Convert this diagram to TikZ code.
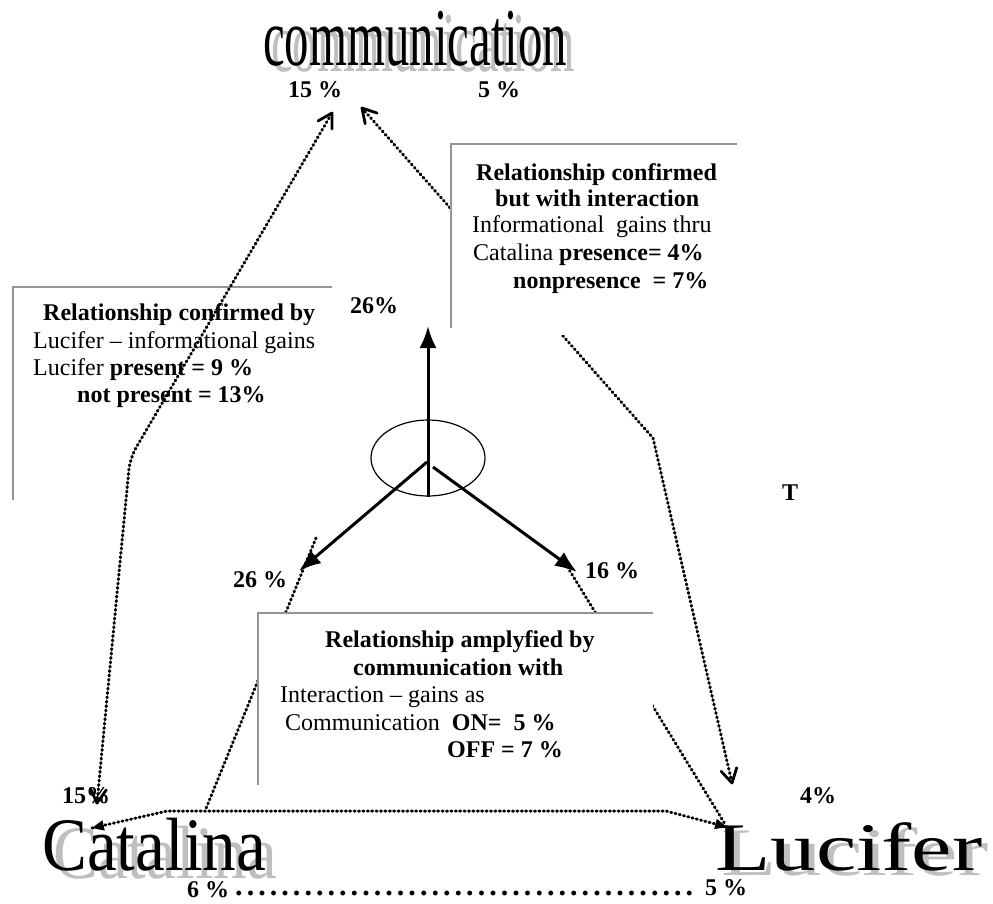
\documentclass[tikz,border=0pt]{standalone}
\usepackage{fontspec}
\setmainfont{Liberation Serif}
\usetikzlibrary{arrows.meta,shapes.geometric,calc}
\begin{document}
\begin{tikzpicture}[x=1pt,y=-1pt,
  lbl/.style={font=\fontsize{24}{28}\selectfont\bfseries, inner sep=0pt, anchor=base west},
  txt/.style={font=\fontsize{24}{28}\selectfont, inner sep=0pt, anchor=base west},
  big/.style={inner sep=0pt, anchor=base west},
  shadow/.style={inner sep=0pt, anchor=base west, text=black!25},
  dotline/.style={line width=3pt, line cap=round, dash pattern=on 1pt off 3.4pt},
  vbarb/.style={line width=2.8pt, line cap=round, line join=round, solid},
  boxline/.style={draw=black!42, line width=2.6pt},
  thickarrow/.style={line width=3pt, -{Latex[length=22pt,width=17pt]}},
]
\useasboundingbox (0,0) rectangle (993,903);

% named points
\coordinate (lA) at (97,803);
\coordinate (lB) at (130,458);
\coordinate (lC) at (332,113);
\coordinate (rA) at (362,108);
\coordinate (rB) at (653,438);
\coordinate (rC) at (732,783);
\coordinate (llA) at (316,538);
\coordinate (llB) at (205,811);
\coordinate (lrA) at (565,563);
\coordinate (lrB) at (725,824);
\coordinate (hA) at (92,828);
\coordinate (hB) at (167,811);
\coordinate (hC) at (666,811);
\coordinate (hD) at (727,827);

% dotted connectors behind boxes
\draw[dotline] (rA) -- (rB) -- (rC);
\draw[vbarb] ($(rA)!16pt!30:(rB)$) -- (rA) -- ($(rA)!16pt!-30:(rB)$);
\draw[vbarb] ($(rC)!16pt!30:(rB)$) -- (rC) -- ($(rC)!16pt!-30:(rB)$);
\draw[dotline] (llA) -- (llB);
\draw[dotline] (lrA) -- (lrB);
\draw[dotline] (hA) -- (hB) -- (hC) -- (hD);
\fill ($(hA)!13pt!24:(hB)$) -- (hA) -- ($(hA)!13pt!-24:(hB)$) -- cycle;
\fill ($(hD)!13pt!24:(hC)$) -- (hD) -- ($(hD)!13pt!-24:(hC)$) -- cycle;

% boxes
\fill[white] (451,144) rectangle (737,335);
\draw[boxline] (737,144) -- (451,144) -- (451,328);
\fill[white] (258,613) rectangle (653,785);
\draw[boxline] (653,613) -- (258,613) -- (258,785);
\draw[boxline] (332,287) -- (13,287) -- (13,500);

% left dotted connector (over the left box)
\draw[dotline, rounded corners=12pt] (lA) -- (lB) -- (lC);
\draw[vbarb] ($(lA)!16pt!30:(lB)$) -- (lA) -- ($(lA)!16pt!-30:(lB)$);
\draw[vbarb] ($(lC)!16pt!30:(lB)$) -- (lC) -- ($(lC)!16pt!-30:(lB)$);

% top right box text
\node[lbl] (t1) at (476,180) {Relationship confirmed};
\node[lbl] (t2) at (495,206) {but with interaction};
\node[txt] (t3) at (472,232) {Informational\ \ gains thru};
\node[txt] (t4) at (473,260) {Catalina \textbf{presence= 4\%}};
\node[lbl] (t5) at (513,288) {nonpresence\ \ = 7\%};

% left box text
\node[lbl] (s1) at (43,320) {Relationship confirmed by};
\node[txt] (s2) at (33,348) {Lucifer -- informational gains};
\node[txt] (s3) at (33,375) {Lucifer \textbf{present = 9 \%}};
\node[lbl] (s4) at (77,402) {not present = 13\%};

% bottom box text
\node[lbl] (b1) at (325,647) {Relationship amplyfied by};
\node[lbl] (b2) at (353,675) {communication with};
\node[txt] (b3) at (280,702) {Interaction -- gains as};
\node[txt] (b4) at (285,730) {Communication\ \ \textbf{ON=\ \ 5 \%}};
\node[lbl] (b5) at (447,757) {OFF = 7 \%};

% labels
\node[lbl] (p15t) at (288,97) {15 \%};
\node[lbl] (p5t) at (478,97) {5 \%};
\node[lbl] (p26t) at (350,313) {26\%};
\node[lbl] (p26l) at (233,587) {26 \%};
\node[lbl] (p16) at (585,578) {16 \%};
\node[lbl] (pT) at (782,500) {T};
\node[lbl] (p15b) at (62,803) {15\%};
\node[lbl] (p4) at (800,803) {4\%};
\node[lbl] (p6) at (187,897) {6 \%};
\node[lbl] (p5b) at (705,895) {5 \%};
\node[lbl, font=\fontsize{30}{30}\selectfont\bfseries] (dots) at (233,895) {\hbox to 462pt{\leaders\hbox to 11.55pt{\hss.\hss}\hfill}};

% big words with shadows
\node[shadow] (commsh) at (271,71) {\fontsize{82}{82}\selectfont\scalebox{0.596}[1.04]{communication}};
\node[big] (comm) at (263,65) {\fontsize{82}{82}\selectfont\scalebox{0.596}[1]{communication}};
\node[shadow] (catsh) at (53,878) {\fontsize{75.5}{76}\selectfont\scalebox{0.89}[1]{Catalina}};
\node[big] (cat) at (42,870) {\fontsize{75.5}{76}\selectfont\scalebox{0.89}[1]{Catalina}};
\node[shadow] (lucsh) at (721,875) {\fontsize{68}{68}\selectfont\scalebox{1.335}[1]{Lucifer}};
\node[big] (luc) at (715,870) {\fontsize{68}{68}\selectfont\scalebox{1.335}[1]{Lucifer}};

% hub and arrows
\node[draw, ellipse, line width=1.2pt, minimum width=114pt, minimum height=76pt, inner sep=0pt] (hub) at (428,458) {};
\coordinate (upTip) at (428,326);
\coordinate (leftTip) at (299,571);
\coordinate (rightTip) at (577,572);
\coordinate (leftStart) at (427,462);
\coordinate (rightStart) at (433,467);
\draw[thickarrow] (hub.south) -- (upTip);
\draw[thickarrow] (leftStart) -- (leftTip);
\draw[thickarrow] (rightStart) -- (rightTip);
\end{tikzpicture}
\end{document}
